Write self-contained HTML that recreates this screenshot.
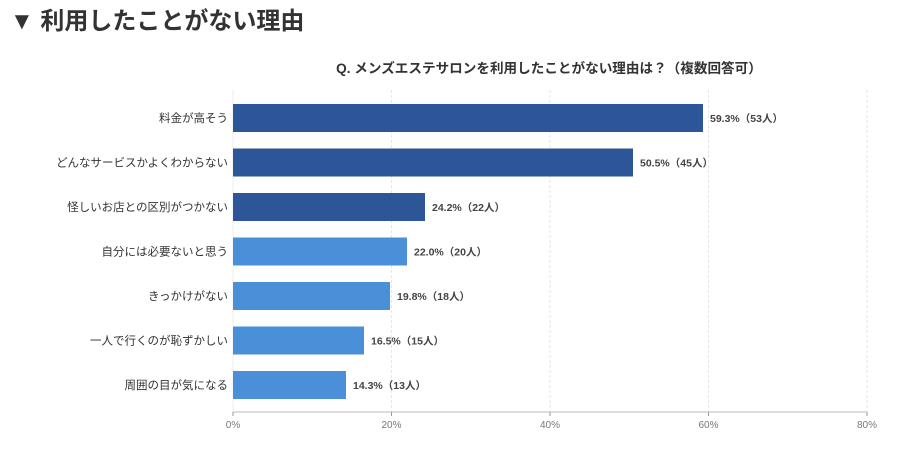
<!DOCTYPE html>
<html><head><meta charset="utf-8"><style>
body{margin:0;background:#fff;width:904px;height:447px;overflow:hidden;font-family:"Liberation Sans","Noto Sans CJK JP",sans-serif}
</style></head><body>
<svg width="904" height="447" xmlns="http://www.w3.org/2000/svg" font-family="'Liberation Sans','Noto Sans CJK JP',sans-serif">
<text x="10" y="29" font-size="24" font-weight="bold" fill="#333">▼ 利用したことがない理由</text>
<text x="549" y="73" font-size="13.6" font-weight="bold" fill="#333" text-anchor="middle">Q. メンズエステサロンを利用したことがない理由は？（複数回答可）</text>
<g stroke="#e6e6e6" stroke-width="1" stroke-dasharray="3,2">
<line x1="391.5" y1="90" x2="391.5" y2="412"/>
<line x1="550" y1="90" x2="550" y2="412"/>
<line x1="708.5" y1="90" x2="708.5" y2="412"/>
<line x1="867" y1="90" x2="867" y2="412"/>
</g>
<line x1="233" y1="90" x2="233" y2="412" stroke="#eee"/>
<line x1="233" y1="412" x2="867" y2="412" stroke="#ddd" stroke-width="2"/>
<g stroke="#999"><line x1="233" y1="412" x2="233" y2="416"/><line x1="391.5" y1="412" x2="391.5" y2="416"/><line x1="550" y1="412" x2="550" y2="416"/><line x1="708.5" y1="412" x2="708.5" y2="416"/><line x1="867" y1="412" x2="867" y2="416"/></g>
<g font-size="10" fill="#777" text-anchor="middle">
<text x="233" y="428">0%</text><text x="391.5" y="428">20%</text><text x="550" y="428">40%</text><text x="708.5" y="428">60%</text><text x="867" y="428">80%</text>
</g>
<g>
<rect x="233" y="104" width="470" height="28" fill="#2c5697"/>
<rect x="233" y="148.5" width="400" height="28" fill="#2c5697"/>
<rect x="233" y="193" width="192" height="28" fill="#2c5697"/>
<rect x="233" y="237.5" width="174" height="28" fill="#4a90d9"/>
<rect x="233" y="282" width="157" height="28" fill="#4a90d9"/>
<rect x="233" y="326.5" width="131" height="28" fill="#4a90d9"/>
<rect x="233" y="371" width="113" height="28" fill="#4a90d9"/>
</g>
<g font-size="11.5" fill="#333" text-anchor="end">
<text x="228" y="122">料金が高そう</text>
<text x="228" y="166.5">どんなサービスかよくわからない</text>
<text x="228" y="211">怪しいお店との区別がつかない</text>
<text x="228" y="255.5">自分には必要ないと思う</text>
<text x="228" y="300">きっかけがない</text>
<text x="228" y="344.5">一人で行くのが恥ずかしい</text>
<text x="228" y="389">周囲の目が気になる</text>
</g>
<g font-size="10.5" font-weight="bold" fill="#444">
<text x="710" y="122">59.3%（53人）</text>
<text x="640" y="166.5">50.5%（45人）</text>
<text x="432" y="211">24.2%（22人）</text>
<text x="414" y="255.5">22.0%（20人）</text>
<text x="397" y="300">19.8%（18人）</text>
<text x="371" y="344.5">16.5%（15人）</text>
<text x="353" y="389">14.3%（13人）</text>
</g>
</svg>
</body></html>
